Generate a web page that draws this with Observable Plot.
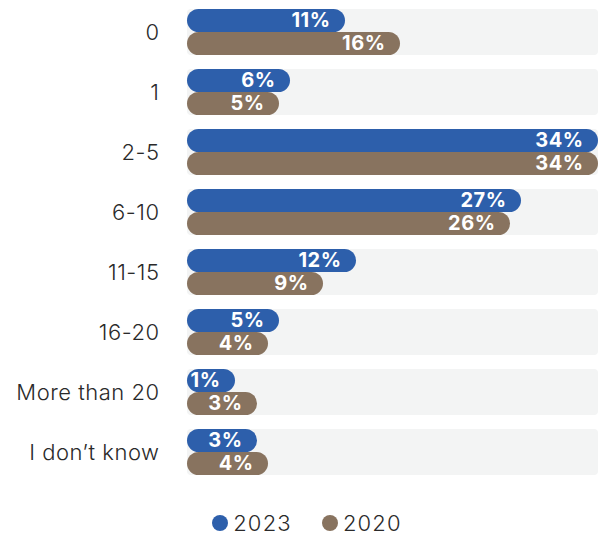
<!DOCTYPE html>
<html>
<head>
<meta charset="utf-8">
<script src="https://cdn.jsdelivr.net/npm/d3@7"></script>
<script src="https://cdn.jsdelivr.net/npm/@observablehq/plot@0.6"></script>
<style>
  html, body { margin: 0; padding: 0; background: #fff; }
  body { width: 598px; font-family: Inter, "Noto Sans", sans-serif; }
  #legend { display: flex; justify-content: center; gap: 30px; margin-top: 20px; padding-left: 16px; font-size: 22px; font-weight: 300; letter-spacing: 1.2px; color: #2a2a2a; }
  #legend span.item { display: inline-flex; align-items: center; gap: 5px; }
  #legend span.dot { width: 16px; height: 16px; border-radius: 50%; display: inline-block; }
  g[aria-label="y-axis tick label"] text { letter-spacing: 0.5px; }
  g[aria-label="text"] text { letter-spacing: 0.5px; }
</style>
</head>
<body>
<div id="chart"></div>
<div id="legend"></div>
<script>
const categories = ["0", "1", "2-5", "6-10", "11-15", "16-20", "More than 20", "I don’t know"];
const values2023 = [11, 6, 34, 27, 12, 5, 1, 3];
const values2020 = [16, 5, 34, 26, 9, 4, 3, 4];
const seriesNames = ["2023", "2020"];
const seriesColors = ["#2d5fab", "#88735f"];

const rows2023 = categories.map((c, i) => ({category: c, value: values2023[i], series: "2023"}));
const rows2020 = categories.map((c, i) => ({category: c, value: values2020[i], series: "2020"}));
const maxV = d3.max([...values2023, ...values2020]);

const chart = Plot.plot({
  width: 598,
  height: 490,
  marginTop: 7,
  marginBottom: 13,
  marginLeft: 224,
  marginRight: 0,
  style: {fontFamily: "Inter, 'Noto Sans', sans-serif"},
  x: {domain: [0, maxV], axis: null},
  y: {domain: categories, paddingInner: 0.24, paddingOuter: 0, label: null, tickSize: 0, tickPadding: 65},
  color: {domain: seriesNames, range: seriesColors},
  marks: [
    Plot.barX(categories, {y: d => d, x1: 0, x2: maxV, fill: "#f3f4f4", insetLeft: -37, rx: 4}),
    Plot.barX(rows2023, {y: "category", x1: 0, x2: "value", fill: seriesColors[0], insetLeft: -37, insetBottom: 23, rx: 11.5}),
    Plot.barX(rows2020, {y: "category", x1: 0, x2: "value", fill: seriesColors[1], insetLeft: -37, insetTop: 23, rx: 11.5}),
    Plot.text(rows2023, {y: "category", x: "value", text: d => d.value + "%", dy: -11.5, dx: -15, textAnchor: "end", fill: "white", fontWeight: 700, fontSize: 20}),
    Plot.text(rows2020, {y: "category", x: "value", text: d => d.value + "%", dy: 11.5, dx: -15, textAnchor: "end", fill: "white", fontWeight: 700, fontSize: 20}),
    Plot.axisY({tickSize: 0, tickPadding: 65, fontSize: 22, fontWeight: 300, fill: "#2a2a2a", label: null})
  ]
});
document.getElementById("chart").appendChild(chart);

const legend = document.getElementById("legend");
seriesNames.forEach((name, i) => {
  const item = document.createElement("span");
  item.className = "item";
  item.innerHTML = `<span class="dot" style="background:${seriesColors[i]}"></span><span>${name}</span>`;
  legend.appendChild(item);
});
</script>
</body>
</html>
